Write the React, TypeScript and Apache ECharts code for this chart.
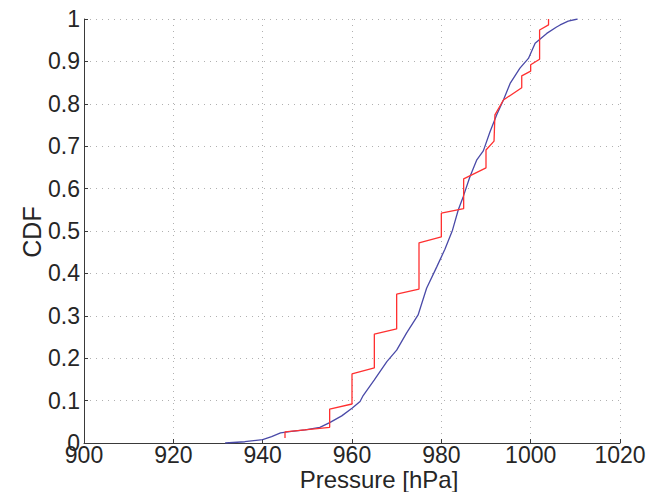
import React, { useEffect, useRef } from "react";
import * as echarts from "echarts";

const xTicks = { min: 900, max: 1020, interval: 20 };
const yTicks = { min: 0, max: 1, interval: 0.1 };

// Empirical CDF of observed pressures (red)
const observedPressure = [945, 945, 955, 955, 960, 960, 965, 965, 970, 970, 975, 975, 980, 980, 985, 985, 990, 990, 991.8, 992, 993.9, 998, 998, 1000, 1000, 1002, 1002, 1004, 1004];
const observedCdf = [0.012, 0.026, 0.037, 0.08, 0.092, 0.163, 0.177, 0.257, 0.269, 0.351, 0.363, 0.472, 0.486, 0.542, 0.553, 0.623, 0.649, 0.691, 0.712, 0.774, 0.809, 0.838, 0.866, 0.877, 0.892, 0.905, 0.974, 0.986, 1.0];

// Modelled CDF (blue)
const modelPressure = [931.6, 936, 940, 942, 944, 946, 949.5, 952.8, 955, 957.7, 960, 961.8, 962.5, 965, 967.8, 970, 972.2, 974.8, 976.7, 979, 980.8, 982.5, 983.8, 984.9, 986.4, 987.9, 989.4, 990.9, 992.4, 993.9, 995.4, 997.6, 999.5, 1001, 1003.6, 1005.8, 1006.6, 1008.4, 1010.5];
const modelCdf = [0.0, 0.003, 0.008, 0.015, 0.024, 0.027, 0.031, 0.037, 0.048, 0.064, 0.082, 0.098, 0.112, 0.149, 0.192, 0.219, 0.259, 0.302, 0.365, 0.416, 0.457, 0.502, 0.55, 0.581, 0.628, 0.667, 0.689, 0.734, 0.774, 0.809, 0.848, 0.884, 0.907, 0.943, 0.966, 0.981, 0.986, 0.995, 1.0];

const xAxisTitle = "Pressure [hPa]";
const yAxisTitle = "CDF";

export default function App() {
  const ref = useRef<HTMLDivElement>(null);
  useEffect(() => {
    if (!ref.current) return;
    const chart = echarts.init(ref.current, null, { renderer: "svg" });
    const font = "'Liberation Sans', Arial, Helvetica, sans-serif";
    const textColor = "#262626";
    chart.setOption({
      animation: false,
      backgroundColor: "#ffffff",
      grid: { left: 84, right: 29, top: 19, bottom: 49, containLabel: false },
      xAxis: {
        type: "value",
        min: xTicks.min,
        max: xTicks.max,
        interval: xTicks.interval,
        axisLine: { show: true, onZero: false, lineStyle: { color: "#3a3a3a", width: 1 } },
        axisTick: { show: true, inside: true, length: 4, lineStyle: { color: "#3a3a3a" } },
        axisLabel: {
          color: textColor,
          fontSize: 23,
          lineHeight: 20,
          fontFamily: font,
          margin: 2,
          formatter: (v: number) => String(v),
        },
        splitLine: { show: true, lineStyle: { color: "#b0b0b0", type: [1, 5], width: 1 } },
      },
      yAxis: {
        type: "value",
        min: yTicks.min,
        max: yTicks.max,
        interval: yTicks.interval,
        axisLine: { show: true, onZero: false, lineStyle: { color: "#3a3a3a", width: 1 } },
        axisTick: { show: true, inside: true, length: 4, lineStyle: { color: "#3a3a3a" } },
        axisLabel: { color: textColor, fontSize: 23, lineHeight: 18, fontFamily: font, margin: 4 },
        splitLine: { show: true, lineStyle: { color: "#b0b0b0", type: [1, 5], width: 1 } },
      },
      graphic: [
        {
          type: "text",
          x: 379,
          y: 479,
          style: {
            text: xAxisTitle,
            fill: textColor,
            fontSize: 24,
            lineHeight: 22,
            fontFamily: font,
            align: "center",
            verticalAlign: "middle",
          },
        },
        {
          type: "text",
          x: 32,
          y: 232,
          rotation: Math.PI / 2,
          style: {
            text: yAxisTitle,
            fill: textColor,
            fontSize: 25,
            fontFamily: font,
            align: "center",
            verticalAlign: "middle",
          },
        },
      ],
      series: [
        {
          type: "line",
          data: modelPressure.map((p, i) => [p, modelCdf[i]]),
          showSymbol: false,
          lineStyle: { color: "#4a4aa8", width: 1.3 },
          z: 2,
        },
        {
          type: "line",
          data: observedPressure.map((p, i) => [p, observedCdf[i]]),
          showSymbol: false,
          lineStyle: { color: "#ff3030", width: 1.3 },
          z: 3,
        },
      ],
    });
    return () => chart.dispose();
  }, []);
  return (
    <div
      ref={ref}
      style={{ position: "fixed", left: 0, top: 0, width: 649, height: 492, background: "#fff" }}
    />
  );
}
